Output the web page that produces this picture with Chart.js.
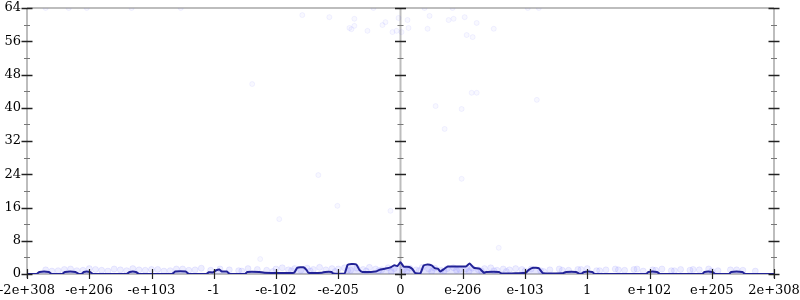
<!DOCTYPE html>
<html>
<head>
<meta charset="utf-8">
<script src="https://cdn.jsdelivr.net/npm/chart.js@4/dist/chart.umd.min.js"></script>
<style>
  html, body { margin: 0; padding: 0; background: #fff; }
  #wrap { width: 800px; height: 300px; }
</style>
</head>
<body>
<div id="wrap"><canvas id="c" width="800" height="300"></canvas></div>
<script>
// ---- data ----
const xTickLabels = ['-2e+308','-e+206','-e+103','-1','-e-102','-e-205','0','e-206','e-103','1','e+102','e+205','2e+308'];
const yTicks = [0, 8, 16, 24, 32, 40, 48, 56, 64];

// histogram line (x in axis units, -6..6)
const lineX = [-6.0,-5.85,-5.80,-5.65,-5.60,-5.44,-5.39,-5.22,-5.17,-5.12,-5.09,-4.99,-4.94,-4.40,-4.35,-4.25,-4.20,
  -3.67,-3.62,-3.45,-3.40,-3.12,-3.08,-3.01,-2.96,-2.91,-2.87,-2.79,-2.74,-2.50,-2.46,-2.27,-2.19,-1.71,-1.66,-1.56,
  -1.51,-1.48,-1.26,-1.21,-1.11,-1.08,-0.90,-0.85,-0.79,-0.71,-0.66,-0.61,-0.40,-0.34,-0.24,-0.16,-0.10,-0.05,0.0,
  0.05,0.14,0.19,0.24,0.32,0.37,0.43,0.50,0.55,0.60,0.64,0.69,0.76,1.05,1.11,1.18,1.27,1.34,1.38,1.58,1.63,1.88,
  2.01,2.06,2.13,2.22,2.29,2.61,2.66,2.82,2.87,2.91,2.95,3.08,3.12,3.95,3.98,4.12,4.17,4.85,4.88,5.01,5.06,5.28,
  5.31,5.49,5.54,6.0];
const lineY = [0,0,0.5,0.5,0,0,0.5,0.5,0,0,0.5,0.5,0,0,0.5,0.5,0,
  0,0.6,0.6,0,0,0.4,0.4,0.9,1.1,0.6,0.6,0,0,0.5,0.5,0.3,0.3,1.5,1.6,
  1.0,0.3,0.3,0.5,0.5,0.1,0.1,2.2,2.4,2.3,1.0,0.5,0.6,1.0,1.3,1.6,2.1,1.9,2.8,
  1.8,1.7,1.2,0.2,0.2,2.0,2.3,2.1,1.4,1.3,0.6,1.1,1.8,1.8,2.5,1.5,1.3,0.3,0.5,0.5,0.1,0.2,
  0.3,1.0,1.5,1.4,0.2,0.2,0.5,0.5,0.1,0.1,0.5,0.5,0,0,0.5,0.5,0,0,0.5,0.5,0,0,
  0.5,0.5,0,0];

// faint scattered samples (upper field)
const dotX = [-5.70,-5.33,-5.04,-4.32,-3.53,-1.578,-1.143,-0.741,-0.821,-0.741,-0.789,-0.531,-0.290,-0.242,-0.435,
  -0.129,-0.064,-0.032,0.016,0.113,0.129,0.386,0.467,0.435,0.773,0.853,1.031,1.224,1.063,1.159,1.498,0.837,2.045,
  2.222,1.143,1.224,2.19,0.564,0.982,-2.383,0.709,-1.320,0.982,-1.014,-1.948,-0.161,-2.254,1.578];
const dotY = [64,64,64,64,64,62.3,61.8,61.4,59.2,59.7,58.9,58.5,59.9,60.6,64,
  58.2,58.5,61.6,58.2,61.1,59.2,64,62.1,59.0,61.1,61.4,61.8,60.4,57.5,57.0,59.0,64,64,
  64,43.6,43.6,41.9,40.4,39.7,45.7,34.9,23.8,22.9,16.4,13.2,15.2,3.6,6.3];

// dense samples near the bottom
const bandX = [-5.7,-5.5,-5.3,-5.1,-4.9,-4.7,-4.5,-4.3,-4.1,-3.9,-3.7,-3.5,-3.3,-3.2,-3.05,-2.9,-2.75,-2.6,-2.45,-2.3,-2.15,
  -2.0,-1.9,-1.8,-1.7,-1.6,-1.5,-1.4,-1.3,-1.2,-1.1,-1.0,-0.9,-0.8,-0.7,-0.6,-0.5,-0.4,-0.3,-0.2,-0.1,0.05,0.15,
  0.25,0.35,0.45,0.55,0.65,0.75,0.85,0.95,1.05,1.15,1.25,1.35,1.45,1.55,1.65,1.75,1.85,1.95,2.1,2.25,2.4,2.55,
  2.7,2.85,3.0,3.15,3.3,3.45,3.6,3.75,3.9,4.05,4.2,4.35,4.5,4.65,4.8,4.95,5.1,5.3,5.5,5.7,
  -5.6,-5.4,-5.2,-5.0,-4.8,-4.6,-4.4,-4.2,-4.0,-3.8,-3.6,-3.4,-2.55,-2.05,-1.75,-1.45,-1.05,-0.85,-0.55,-0.35,-0.15,
  0.1,0.3,0.5,0.7,0.9,1.1,1.3,1.5,1.7,2.0,2.3,2.6,2.9,3.2,3.5,3.8,4.1,4.4,4.7,5.0,5.4];
const bandY = [1.0,0.8,1.2,0.9,1.1,0.7,1.0,1.3,0.9,1.1,0.8,1.2,1.0,1.4,0.9,1.2,1.0,0.8,1.3,1.1,0.9,
  1.2,1.5,1.0,1.3,0.9,1.4,1.1,1.6,1.0,1.3,1.2,1.5,0.9,1.4,1.1,1.6,1.2,1.0,1.5,1.3,1.1,1.4,
  1.0,1.6,1.2,1.4,0.9,1.3,1.5,1.1,1.2,1.4,1.0,1.3,1.5,0.9,1.2,1.0,1.3,1.1,1.2,0.8,1.0,1.2,
  0.9,1.1,1.3,0.8,1.0,1.2,0.9,1.1,0.7,1.0,1.2,0.8,1.1,0.9,1.0,1.2,0.8,1.0,0.9,0.7,
  0.7,1.1,0.8,1.3,0.9,1.2,0.8,1.0,1.1,0.7,1.2,0.9,
  0.7,0.6,0.8,0.7,0.6,0.9,0.7,0.8,0.6,0.7,0.8,0.6,0.7,0.9,0.6,0.7,0.8,0.6,0.7,0.6,
  0.9,1.1,0.8,1.0,1.2,0.9,0.8,1.1,0.7,1.0];

// ---- build ----
const linePts = lineX.map((x, i) => ({x: x, y: lineY[i]}));
const dotPts = dotX.map((x, i) => ({x: x, y: dotY[i]}));
const bandPts = bandX.map((x, i) => ({x: x, y: bandY[i]}));
const FONT = {family: 'DejaVu Serif', size: 13};

const axesPlugin = {
  id: 'centerAxes',
  beforeDatasetsDraw(chart) {
    const {ctx, chartArea: a, scales: {x, y}} = chart;
    ctx.save();
    ctx.strokeStyle = '#bdbdbd';
    ctx.lineWidth = 2;
    ctx.beginPath();
    ctx.moveTo(a.left, a.top); ctx.lineTo(a.right, a.top);
    ctx.moveTo(a.left, a.bottom); ctx.lineTo(a.right, a.bottom);
    [x.getPixelForValue(-6), x.getPixelForValue(0), x.getPixelForValue(6)].forEach(px => {
      ctx.moveTo(px, a.top); ctx.lineTo(px, a.bottom + 4);
    });
    ctx.stroke();
    ctx.restore();
  },
  afterDatasetsDraw(chart) {
    const {ctx, chartArea: a, scales: {x, y}} = chart;
    ctx.save();
    const axesPx = [x.getPixelForValue(-6), x.getPixelForValue(0), x.getPixelForValue(6)];
    axesPx.forEach(px => {
      for (let v = 0; v <= 64; v += 4) {
        const py = Math.round(y.getPixelForValue(v)) + 0.5;
        const major = v % 8 === 0;
        ctx.strokeStyle = major ? '#222' : '#777';
        ctx.lineWidth = major ? 1.5 : 1;
        const h = major ? 5.5 : 3;
        ctx.beginPath();
        ctx.moveTo(px - h, py); ctx.lineTo(px + h, py);
        ctx.stroke();
      }
    });
    ctx.strokeStyle = '#222';
    ctx.lineWidth = 1.2;
    for (let v = -6; v <= 6; v++) {
      const px = Math.round(x.getPixelForValue(v)) + 0.5;
      ctx.beginPath();
      ctx.moveTo(px, a.bottom - 5); ctx.lineTo(px, a.bottom + 5);
      ctx.stroke();
    }
    ctx.restore();
  }
};

new Chart(document.getElementById('c'), {
  type: 'line',
  data: {
    datasets: [
      {
        type: 'scatter',
        data: dotPts,
        pointRadius: 2.5,
        pointBackgroundColor: 'rgba(90,90,255,0.045)',
        pointBorderColor: 'rgba(90,90,255,0.07)',
        pointBorderWidth: 1,
        order: 3
      },
      {
        type: 'scatter',
        data: bandPts,
        pointRadius: 3,
        pointBackgroundColor: 'rgba(90,90,255,0.10)',
        pointBorderColor: 'rgba(90,90,255,0.10)',
        pointBorderWidth: 1,
        order: 2
      },
      {
        data: linePts,
        borderColor: 'rgb(34,34,150)',
        borderWidth: 2,
        backgroundColor: 'rgba(110,110,245,0.18)',
        fill: 'origin',
        pointRadius: 0,
        tension: 0.15,
        order: 1
      }
    ]
  },
  options: {
    responsive: false,
    animation: false,
    layout: {padding: {top: 8, right: 26, left: 0, bottom: 0}},
    plugins: {legend: {display: false}, tooltip: {enabled: false}},
    scales: {
      x: {
        type: 'linear', min: -6, max: 6,
        grid: {display: false, drawTicks: false},
        border: {display: false},
        ticks: {
          stepSize: 1, autoSkip: false, maxRotation: 0, padding: 9,
          color: '#000', font: FONT,
          callback: (v) => xTickLabels[Math.round(v) + 6]
        },
        afterFit: (s) => { s.height = 26; s.paddingLeft = 0; s.paddingRight = 0; }
      },
      y: {
        min: 0, max: 64,
        grid: {display: false, drawTicks: false},
        border: {display: false},
        afterBuildTicks: (s) => { s.ticks = yTicks.map(v => ({value: v})); },
        ticks: {padding: 6, color: '#000', font: FONT},
        afterFit: (s) => { s.width = 27; s.paddingTop = 0; s.paddingBottom = 0; }
      }
    }
  },
  plugins: [axesPlugin]
});
</script>
</body>
</html>
